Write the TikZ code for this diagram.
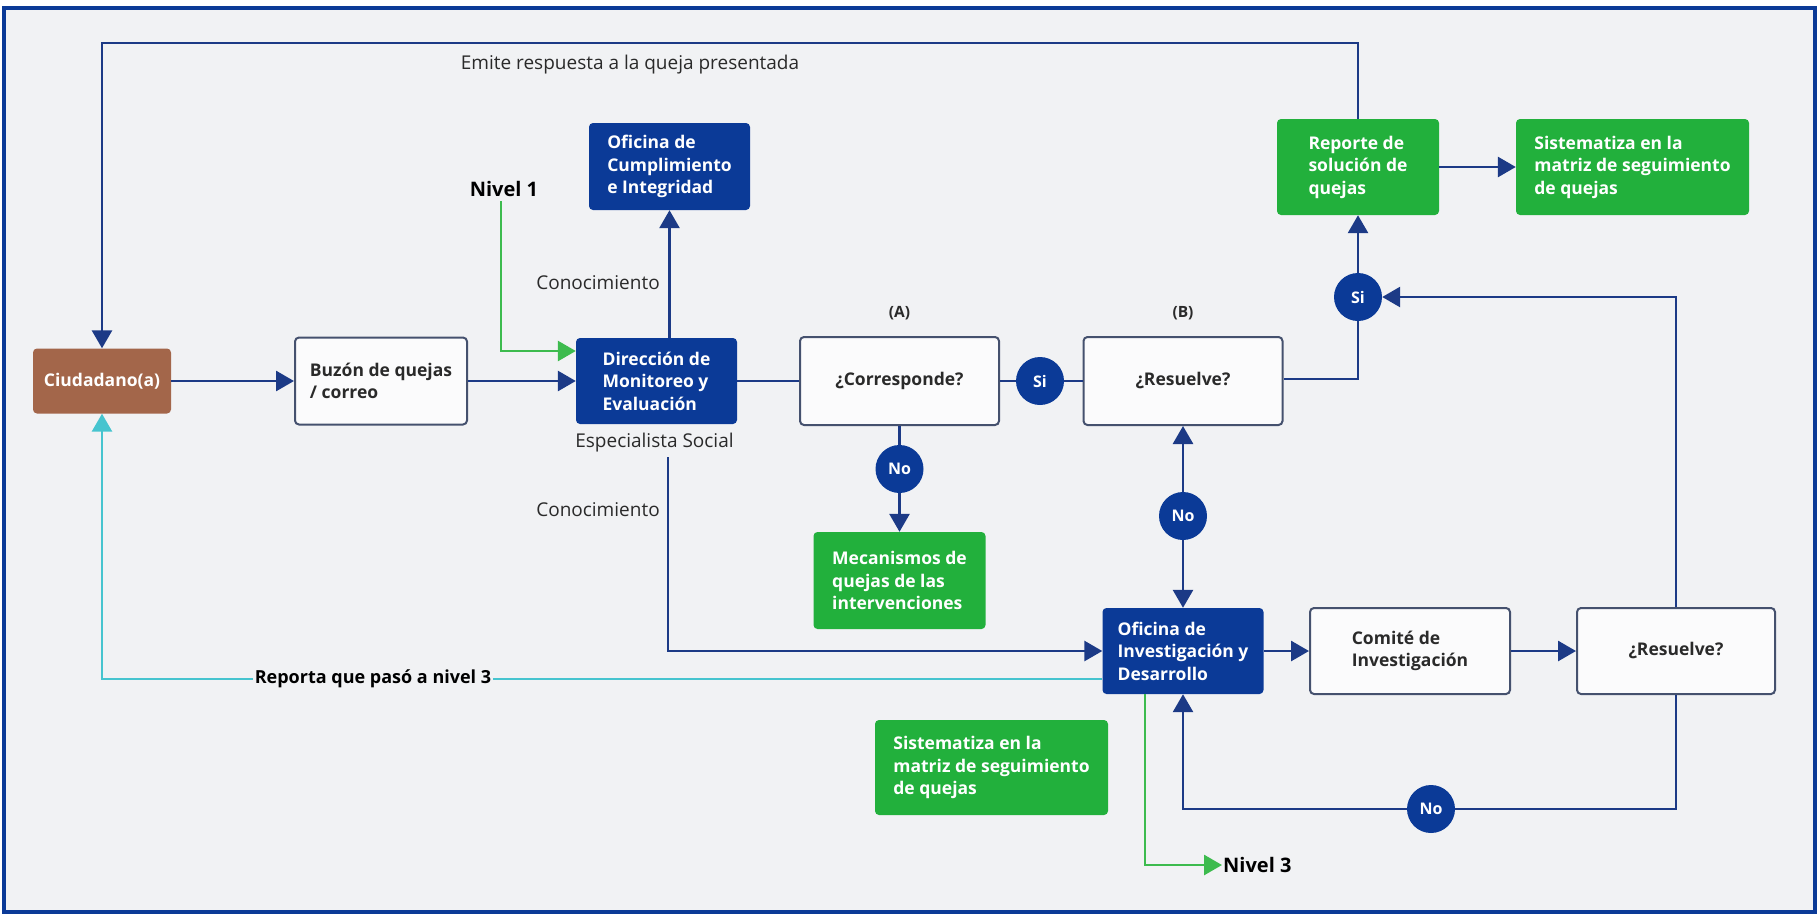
\documentclass[tikz,border=0pt]{standalone}
\usepackage{fontspec}
\setmainfont{Open Sans}
\usetikzlibrary{arrows.meta,calc}
\definecolor{navy}{HTML}{0B3A97}
\definecolor{lnav}{HTML}{1C3A86}
\definecolor{grn}{HTML}{22B03C}
\definecolor{lgrn}{HTML}{3DBB4E}
\definecolor{brn}{HTML}{A3664A}
\definecolor{cyn}{HTML}{46C4CF}
\definecolor{bg}{HTML}{F1F2F4}
\definecolor{bord}{HTML}{45516E}
\definecolor{txt}{HTML}{2A2A2A}
\begin{document}
\begin{tikzpicture}[x=1pt,y=-1pt,
  box/.style={rounded corners=4pt, align=left, inner sep=0pt,
    font=\bfseries\fontsize{17.5}{22.5}\selectfont},
  bluebox/.style={box, fill=navy, text=white},
  greenbox/.style={box, fill=grn, text=white},
  whitebox/.style={box, fill=white!70!bg, draw=bord, line width=2pt, text=txt},
  dot/.style={circle, fill=navy, text=white, minimum size=48pt, inner sep=0pt,
    font=\bfseries\fontsize{16}{18}\selectfont},
  lbl/.style={text=txt, inner sep=1pt, font=\fontsize{19}{22}\selectfont},
  nivel/.style={text=black, inner sep=1pt, font=\bfseries\fontsize{20}{24}\selectfont},
  ln/.style={draw=lnav, line width=2.8pt},
  tip/.style={-{Triangle[length=18pt,width=20pt]}},
  arr/.style={ln, tip},
  garr/.style={draw=lgrn, line width=2.8pt, tip},
  carr/.style={draw=cyn, line width=2.8pt, tip}
]
\useasboundingbox (0,0) rectangle (1819,916);
\fill[white] (0,0) rectangle (1819,916);
\fill[bg] (4,8) rectangle (1815,912);
\draw[navy, line width=4pt] (4,8) rectangle (1815,912);

% nodes
\node[box, fill=brn, text=white, minimum width=138pt, minimum height=65pt, align=center] (ciu) at (102,381) {Ciudadano(a)};
\node[whitebox, minimum width=172pt, minimum height=87pt] (buz) at (381,381) {Buzón de quejas\\/ correo};
\node[bluebox, minimum width=161pt, minimum height=86pt] (dir) at (656.5,381) {Dirección de\\Monitoreo y\\Evaluación};
\node[bluebox, minimum width=161pt, minimum height=87pt] (ofc) at (669.5,166.5) {Oficina de\\Cumplimiento\\e Integridad};
\node[whitebox, minimum width=199pt, minimum height=88pt] (cor) at (899.5,381) {¿Corresponde?};
\node[dot] (si1) at (1040,381) {Si};
\node[whitebox, minimum width=199pt, minimum height=88pt] (resB) at (1183,381) {¿Resuelve?};
\node[dot] (noA) at (899.5,469) {No};
\node[greenbox, minimum width=172pt, minimum height=97pt] (mec) at (899.5,580.5) {Mecanismos de\\quejas de las\\intervenciones};
\node[dot] (noB) at (1183,516) {No};
\node[bluebox, minimum width=161pt, minimum height=86pt] (oid) at (1183,651) {Oficina de\\Investigación y\\Desarrollo};
\node[whitebox, minimum width=200pt, minimum height=86pt] (com) at (1410,651) {Comité de\\Investigación};
\node[whitebox, minimum width=198pt, minimum height=86pt] (resR) at (1676,651) {¿Resuelve?};
\node[dot] (noC) at (1431,809) {No};
\node[greenbox, minimum width=233pt, minimum height=95pt] (sisB) at (991.5,767.5) {Sistematiza en la\\matriz de seguimiento\\de quejas};
\node[greenbox, minimum width=162pt, minimum height=96pt] (rep) at (1358,167) {Reporte de\\solución de\\quejas};
\node[greenbox, minimum width=233pt, minimum height=96pt] (sisT) at (1632.5,167) {Sistematiza en la\\matriz de seguimiento\\de quejas};
\node[dot] (si2) at (1358,297) {Si};

% labels
\node[lbl] (emite) at (630,65) {Emite respuesta a la queja presentada};
\node[nivel] (niv1) at (504,189) {Nivel 1};
\node[lbl] (con1) at (598,283) {Conocimiento};
\node[lbl] (con2) at (598,510) {Conocimiento};
\node[lbl] (esp) at (654.5,443) {Especialista Social};
\node[text=txt, font=\bfseries\fontsize{15.5}{18}\selectfont] (labA) at (899.5,313) {(A)};
\node[text=txt, font=\bfseries\fontsize{15.5}{18}\selectfont] (labB) at (1183,313) {(B)};
\node[nivel, anchor=west] (niv3) at (1222,865) {Nivel 3};

\coordinate (tl) at (102,43);
\coordinate (n1) at (501,201);
\coordinate (k) at (668,457);

% connectors
\draw[arr] (rep.north) -- (rep.north |- tl) -- (tl) -- (ciu.north);
\draw[arr] (ciu.east) -- (buz.west);
\draw[arr] (buz.east) -- (dir.west);
\draw[garr] (n1) |- ($(dir.west)+(0,-30)$);
\draw[arr] (dir.north -| ofc.south) -- (ofc.south);
\draw[ln] (dir.east) -- (cor.west);
\draw[ln] (cor.east) -- (si1.west);
\draw[ln] (si1.east) -- (resB.west);
\draw[ln] (cor.south) -- (noA.north);
\draw[arr] (noA.south) -- (mec.north);
\draw[arr] (noB.north) -- (resB.south);
\draw[arr] (noB.south) -- (oid.north);
\draw[ln] ($(resB.east)+(0,-2)$) -| (si2.south);
\draw[arr] (si2.north) -- (rep.south);
\draw[arr] (rep.east) -- (sisT.west);
\draw[arr] (resR.north) |- (si2.east);
\draw[arr] (oid.east) -- (com.west);
\draw[arr] (com.east) -- (resR.west);
\draw[ln] (resR.south) |- (noC.east);
\draw[arr] (noC.west) -| (oid.south);
\draw[arr] (k) |- (oid.west);
\draw[carr] ($(oid.west)+(0,28)$) -| (ciu.south);
\draw[garr] ($(oid.south)+(-38,0)$) |- (niv3.west);
\node[fill=bg, text=black, inner sep=2pt, font=\bfseries\fontsize{18}{20}\selectfont] (rpt) at (373,679) {Reporta que pasó a nivel 3};
\end{tikzpicture}
\end{document}
